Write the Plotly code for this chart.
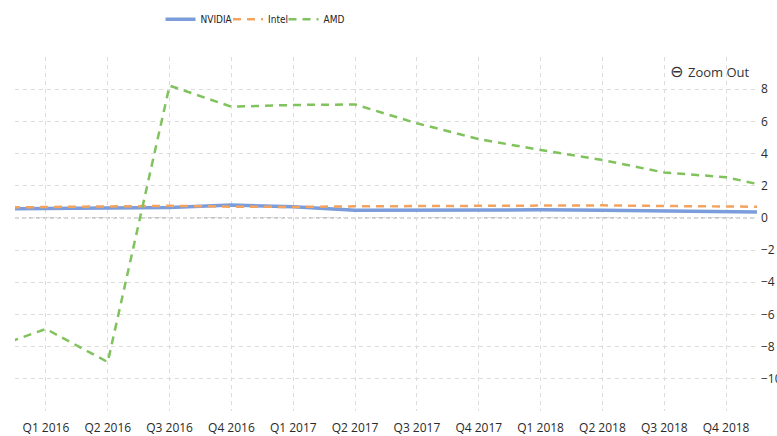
import plotly.graph_objects as go

quarters = ["Q4 2015", "Q1 2016", "Q2 2016", "Q3 2016", "Q4 2016", "Q1 2017", "Q2 2017",
            "Q3 2017", "Q4 2017", "Q1 2018", "Q2 2018", "Q3 2018", "Q4 2018", "Q1 2019"]
tick_labels = quarters[1:13]
y_ticks = [-10, -8, -6, -4, -2, 0, 2, 4, 6, 8]

nvidia = [0.56, 0.60, 0.62, 0.65, 0.80, 0.70, 0.48, 0.50, 0.52, 0.50, 0.48, 0.45, 0.42, 0.34]
intel = [0.64, 0.68, 0.72, 0.75, 0.70, 0.68, 0.72, 0.74, 0.76, 0.79, 0.78, 0.74, 0.72, 0.68]
amd = [-8.26, -6.90, -8.96, 8.22, 6.91, 7.02, 7.05, 5.88, 4.90, 4.22, 3.60, 2.82, 2.53, 1.69]

fig = go.Figure()
fig.add_trace(go.Scatter(x=quarters, y=nvidia, name="NVIDIA", mode="lines", legend="legend",
                         line=dict(color="#7c9ddb", width=3.5)))
fig.add_trace(go.Scatter(x=quarters, y=intel, name="Intel", mode="lines", legend="legend2",
                         line=dict(color="#f3a35e", width=2.5, dash="8px,6px")))
fig.add_trace(go.Scatter(x=quarters, y=amd, name="AMD", mode="lines", legend="legend3",
                         line=dict(color="#80c25c", width=2.5, dash="8px,6px")))

fig.add_hline(y=0, line=dict(color="#b0b0b0", width=1.2, dash="4px,3px"), layer="below")

legend_font = dict(family="DejaVu Sans Condensed, Liberation Sans", size=10, color="#222222")


def legend_box(x):
    return dict(orientation="h", x=x, xanchor="left", yref="container", y=0.956,
                yanchor="middle", font=legend_font, bgcolor="rgba(0,0,0,0)")


fig.update_layout(
    width=777, height=436,
    margin=dict(l=15, r=20, t=57, b=25),
    paper_bgcolor="white", plot_bgcolor="white",
    font=dict(family="Open Sans", size=12, color="#333333"),
    showlegend=True,
    legend=legend_box(0.1961),
    legend2=legend_box(0.2871),
    legend3=legend_box(0.3619),
    xaxis=dict(type="category", categoryorder="array", categoryarray=quarters,
               range=[0.5, 12.5], tickmode="array", tickvals=tick_labels, ticktext=tick_labels,
               showgrid=True, gridcolor="#dcdcdc", griddash="4px,4px", gridwidth=1,
               showline=False, zeroline=False, ticks="", ticklabelstandoff=8, automargin=False,
               tickfont=dict(family="Open Sans", size=12, color="#2a2a2a")),
    yaxis=dict(side="right", range=[-12, 10], tickmode="array", tickvals=y_ticks,
               showgrid=True, gridcolor="#dcdcdc", griddash="4px,4px", gridwidth=1,
               zeroline=False, showline=False, ticks="", ticklabelstandoff=3, automargin=False,
               tickfont=dict(family="Open Sans", size=12, color="#2a2a2a")),
    annotations=[
        dict(text="⊖", xref="paper", yref="paper", x=0.892, y=0.958,
             xanchor="center", yanchor="middle", showarrow=False,
             font=dict(family="DejaVu Sans", size=16, color="#333333")),
        dict(text="Zoom Out", xref="paper", yref="paper", x=0.9045, y=0.958,
             xanchor="left", yanchor="middle", showarrow=False,
             font=dict(family="Open Sans", size=13, color="#333333")),
    ],
)

fig.write_html("out.html", config={"displayModeBar": False},
               post_script="document.body.style.margin='0';")
